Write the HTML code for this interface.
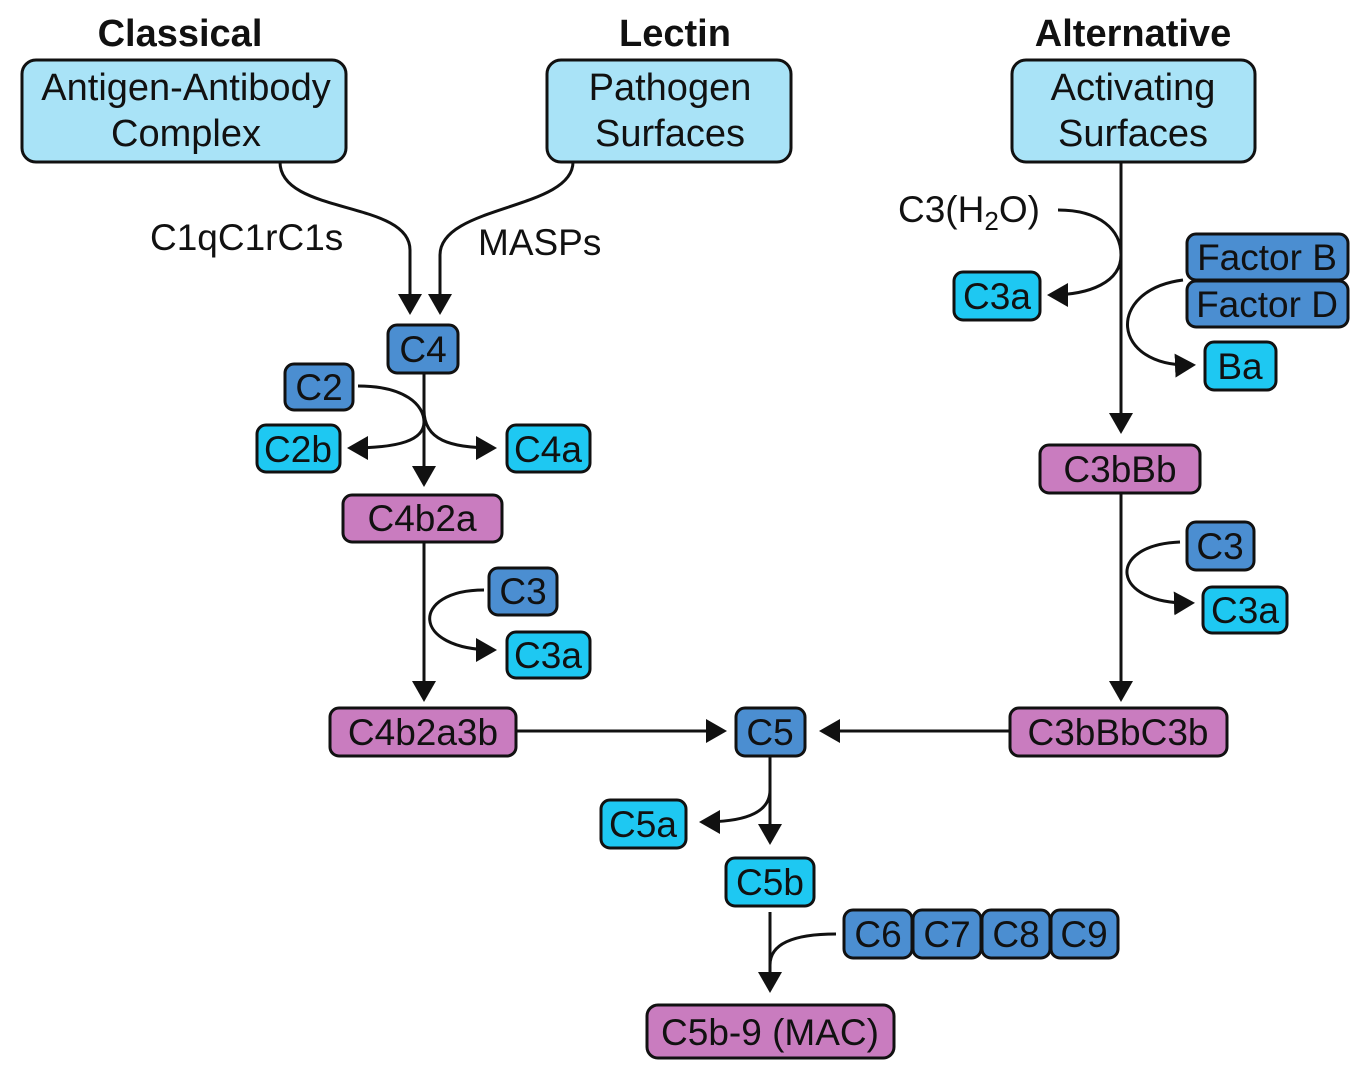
<!DOCTYPE html>
<html><head><meta charset="utf-8"><style>
html,body{margin:0;padding:0;background:#fff;}
svg{display:block;}
text{font-family:"Liberation Sans",sans-serif;fill:#111;}
.b{stroke:#111;stroke-width:3;}
.L{fill:#a9e3f7}.D{fill:#4b8ed1}.C{fill:#1ec8f2}.P{fill:#c97cbf}
.ln{fill:none;stroke:#111;stroke-width:3;}
</style></head><body>
<svg width="1365" height="1079" viewBox="0 0 1365 1079" xmlns="http://www.w3.org/2000/svg">
<defs><marker id="a" markerWidth="8" markerHeight="8" refX="6" refY="4" orient="auto" markerUnits="strokeWidth"><path d="M0,0 L7,4 L0,8 z" fill="#111"/></marker></defs>
<g font-weight="bold" font-size="38" text-anchor="middle">
<text x="180" y="46">Classical</text><text x="675" y="46">Lectin</text><text x="1133" y="46">Alternative</text></g>
<g class="b">
<rect class="L" x="22" y="60" width="324" height="102" rx="14"/>
<rect class="L" x="547" y="60" width="244" height="102" rx="14"/>
<rect class="L" x="1012" y="60" width="243" height="102" rx="14"/>
</g>
<g font-size="38" text-anchor="middle">
<text x="186" y="100">Antigen-Antibody</text><text x="186" y="146">Complex</text>
<text x="670" y="100">Pathogen</text><text x="670" y="146">Surfaces</text>
<text x="1133" y="100">Activating</text><text x="1133" y="146">Surfaces</text>
</g>
<g class="ln" marker-end="url(#a)">
<path d="M280,162 C280,215 410,200 410,250 L410,312"/>
<path d="M573,162 C573,210 440,205 440,255 L440,312"/>
<path d="M424,373 L424,484"/>
<path d="M358,386 C405,386 424,405 424,422 C424,440 400,448 350,448"/>
<path d="M424,410 C424,440 450,448 494,448"/>
<path d="M424,542 L424,699"/>
<path d="M484,590 C410,590 410,650 494,650"/>
<path d="M516,731 L724,731"/>
<path d="M1010,731 L822,731"/>
<path d="M1121,162 L1121,431"/>
<path d="M1121,493 L1121,699"/>
<path d="M1058,210 C1100,210 1121,230 1121,255 C1121,282 1090,295 1050,295"/>
<path d="M1183,280 C1105,290 1110,368 1193,365"/>
<path d="M1180,542 C1105,545 1110,605 1192,603"/>
<path d="M770,756 L770,842"/>
<path d="M770,790 C770,815 740,822 702,822"/>
<path d="M770,912 L770,990"/>
</g>
<path class="ln" d="M836,934 C790,934 770,945 770,965"/>
<g font-size="37">
<text x="150" y="250">C1qC1rC1s</text><text x="478" y="255">MASPs</text>
<text x="898" y="222">C3(H<tspan font-size="26" dy="8">2</tspan><tspan dy="-8">O)</tspan></text>
</g>
<g class="b">
<rect class="D" x="388" y="325" width="70" height="48" rx="9"/>
<rect class="D" x="285" y="364" width="68" height="46" rx="9"/>
<rect class="C" x="257" y="425" width="83" height="47" rx="9"/>
<rect class="C" x="507" y="425" width="83" height="47" rx="9"/>
<rect class="P" x="343" y="495" width="159" height="47" rx="9"/>
<rect class="D" x="489" y="568" width="68" height="47" rx="9"/>
<rect class="C" x="507" y="632" width="83" height="46" rx="9"/>
<rect class="P" x="330" y="708" width="186" height="48" rx="9"/>
<rect class="D" x="736" y="708" width="69" height="48" rx="9"/>
<rect class="P" x="1010" y="708" width="217" height="48" rx="9"/>
<rect class="C" x="954" y="272" width="86" height="48" rx="9"/>
<rect class="D" x="1187" y="234" width="161" height="46" rx="9"/>
<rect class="D" x="1187" y="281" width="161" height="46" rx="9"/>
<rect class="C" x="1205" y="342" width="71" height="48" rx="9"/>
<rect class="P" x="1040" y="445" width="160" height="48" rx="9"/>
<rect class="D" x="1187" y="522" width="67" height="48" rx="9"/>
<rect class="C" x="1203" y="587" width="84" height="46" rx="9"/>
<rect class="C" x="601" y="800" width="85" height="48" rx="9"/>
<rect class="C" x="726" y="858" width="88" height="48" rx="9"/>
<rect class="D" x="844" y="910" width="68" height="48" rx="9"/>
<rect class="D" x="913" y="910" width="68" height="48" rx="9"/>
<rect class="D" x="982" y="910" width="68" height="48" rx="9"/>
<rect class="D" x="1051" y="910" width="67" height="48" rx="9"/>
<rect class="P" x="647" y="1005" width="247" height="53" rx="11"/>
</g>
<g font-size="37" text-anchor="middle">
<text x="423" y="362">C4</text><text x="319" y="400">C2</text>
<text x="298" y="462">C2b</text><text x="548" y="462">C4a</text>
<text x="422" y="531">C4b2a</text><text x="523" y="604">C3</text>
<text x="548" y="668">C3a</text><text x="423" y="745">C4b2a3b</text>
<text x="770" y="745">C5</text><text x="1118" y="745">C3bBbC3b</text>
<text x="997" y="309">C3a</text><text x="1267" y="270">Factor B</text>
<text x="1267" y="317">Factor D</text><text x="1240" y="379">Ba</text>
<text x="1120" y="482">C3bBb</text><text x="1220" y="559">C3</text>
<text x="1245" y="623">C3a</text><text x="643" y="837">C5a</text>
<text x="770" y="895">C5b</text><text x="878" y="947">C6</text>
<text x="947" y="947">C7</text><text x="1016" y="947">C8</text>
<text x="1084" y="947">C9</text><text x="770" y="1045">C5b-9 (MAC)</text>
</g>
</svg>
</body></html>
